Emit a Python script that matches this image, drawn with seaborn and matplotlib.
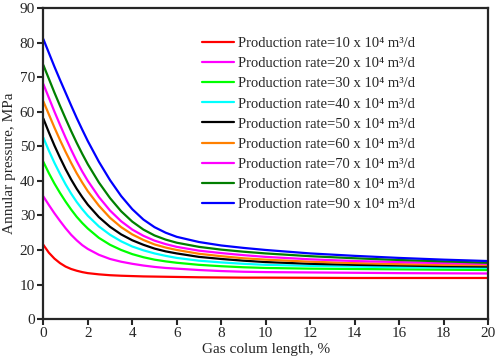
import numpy as np
import pandas as pd
import matplotlib
matplotlib.use("Agg")
import matplotlib.pyplot as plt
import seaborn as sns

# gas column length, %
gas_len = [0, 0.25, 0.5, 0.75, 1, 1.25, 1.5, 1.75, 2, 2.5, 3, 3.5, 4, 4.5,
           5, 5.5, 6, 7, 8, 9, 10, 12, 14, 16, 18, 20]

# annular pressure (MPa), one list per production rate (10^4 m3/d)
p10 = [21.5, 19.2, 17.5, 16.2, 15.2, 14.5, 14.0, 13.6, 13.3, 12.95, 12.7, 12.55, 12.45,
       12.35, 12.3, 12.25, 12.2, 12.1, 12.05, 12.0, 12.0, 11.95, 11.9, 11.9, 11.9, 11.9]
p20 = [35.5, 33.0, 30.6, 28.4, 26.3, 24.4, 22.8, 21.4, 20.3, 18.6, 17.4, 16.6, 16.0,
       15.5, 15.1, 14.8, 14.6, 14.2, 13.9, 13.7, 13.6, 13.5, 13.4, 13.3, 13.25, 13.2]
p30 = [45.5, 42.2, 39.2, 36.5, 34.0, 31.7, 29.6, 27.8, 26.2, 23.5, 21.5, 20.0, 18.8,
       17.9, 17.2, 16.7, 16.3, 15.7, 15.3, 15.0, 14.8, 14.6, 14.5, 14.4, 14.3, 14.2]
p40 = [52.5, 48.7, 45.2, 42.0, 39.0, 36.3, 33.9, 31.8, 29.9, 26.8, 24.4, 22.5, 21.0,
       19.9, 19.0, 18.3, 17.7, 16.9, 16.4, 16.0, 15.7, 15.4, 15.2, 15.0, 14.9, 14.8]
p50 = [58.0, 54.0, 50.2, 46.7, 43.4, 40.4, 37.7, 35.3, 33.1, 29.5, 26.7, 24.5, 22.8,
       21.5, 20.4, 19.6, 19.0, 18.0, 17.4, 16.9, 16.5, 16.0, 15.7, 15.5, 15.3, 15.2]
p60 = [63.0, 59.2, 55.4, 51.8, 48.4, 45.2, 42.2, 39.5, 37.0, 32.8, 29.3, 26.6, 24.5,
       22.9, 21.6, 20.7, 20.0, 18.9, 18.2, 17.6, 17.2, 16.6, 16.2, 15.9, 15.7, 15.6]
p70 = [68.0, 64.0, 60.0, 56.2, 52.5, 49.0, 45.7, 42.7, 40.0, 35.3, 31.4, 28.3, 25.9,
       24.1, 22.7, 21.7, 20.9, 19.8, 19.1, 18.5, 18.0, 17.3, 16.8, 16.5, 16.2, 16.0]
p80 = [73.5, 69.5, 65.5, 61.7, 58.0, 54.4, 51.0, 47.8, 44.8, 39.5, 35.0, 31.2, 28.2,
       25.9, 24.2, 23.0, 22.1, 20.9, 20.1, 19.5, 19.0, 18.2, 17.6, 17.1, 16.7, 16.3]
p90 = [81.0, 77.0, 73.0, 69.2, 65.5, 61.8, 58.2, 54.8, 51.5, 45.5, 40.2, 35.6, 31.8,
       28.8, 26.6, 25.0, 23.8, 22.3, 21.3, 20.6, 20.0, 19.0, 18.3, 17.7, 17.2, 16.8]

rates = [10, 20, 30, 40, 50, 60, 70, 80, 90]
series = [p10, p20, p30, p40, p50, p60, p70, p80, p90]
colors = ["#ff0000", "#ff00ff", "#00ff00", "#00ffff", "#000000",
          "#ff8000", "#ff00ff", "#008000", "#0000ff"]

labels = [f"Production rate={r} x 10\u2074 m\u00b3/d" for r in rates]

rows = []
for lab, vals in zip(labels, series):
    for x, y in zip(gas_len, vals):
        rows.append({"x": x, "y": y, "rate": lab})
df = pd.DataFrame(rows)

sns.set_style("ticks")
plt.rcParams["font.family"] = ["Liberation Serif", "DejaVu Serif"]

fig = plt.figure(figsize=(4.98, 3.61), dpi=100)
ax = fig.add_axes([0.087, 0.116, 0.893, 0.862])

sns.lineplot(data=df, x="x", y="y", hue="rate", palette=colors,
             hue_order=labels, linewidth=1.6, ax=ax, legend=False,
             estimator=None, sort=False)

ax.set_xlim(0, 20)
ax.set_ylim(0, 90)
ax.set_xticks(range(0, 21, 2))
ax.set_yticks(range(0, 91, 10))
ax.set_xlabel("Gas colum length, %", fontsize=11, labelpad=2)
ax.set_ylabel("Annular pressure, MPa", fontsize=11, labelpad=3)
ax.tick_params(labelsize=11, width=1.5, length=4, direction="out", pad=2)
for s in ax.spines.values():
    s.set_visible(True)
    s.set_linewidth(1.6)

handles = [plt.Line2D([], [], color=c, lw=1.6) for c in colors]
ax.legend(handles, labels, loc="upper left", bbox_to_anchor=(0.343, 0.925),
          frameon=False, fontsize=10.5, handlelength=2.2, handletextpad=0.3,
          labelspacing=0.47, borderaxespad=0)

fig.savefig("out.png", dpi=100)
